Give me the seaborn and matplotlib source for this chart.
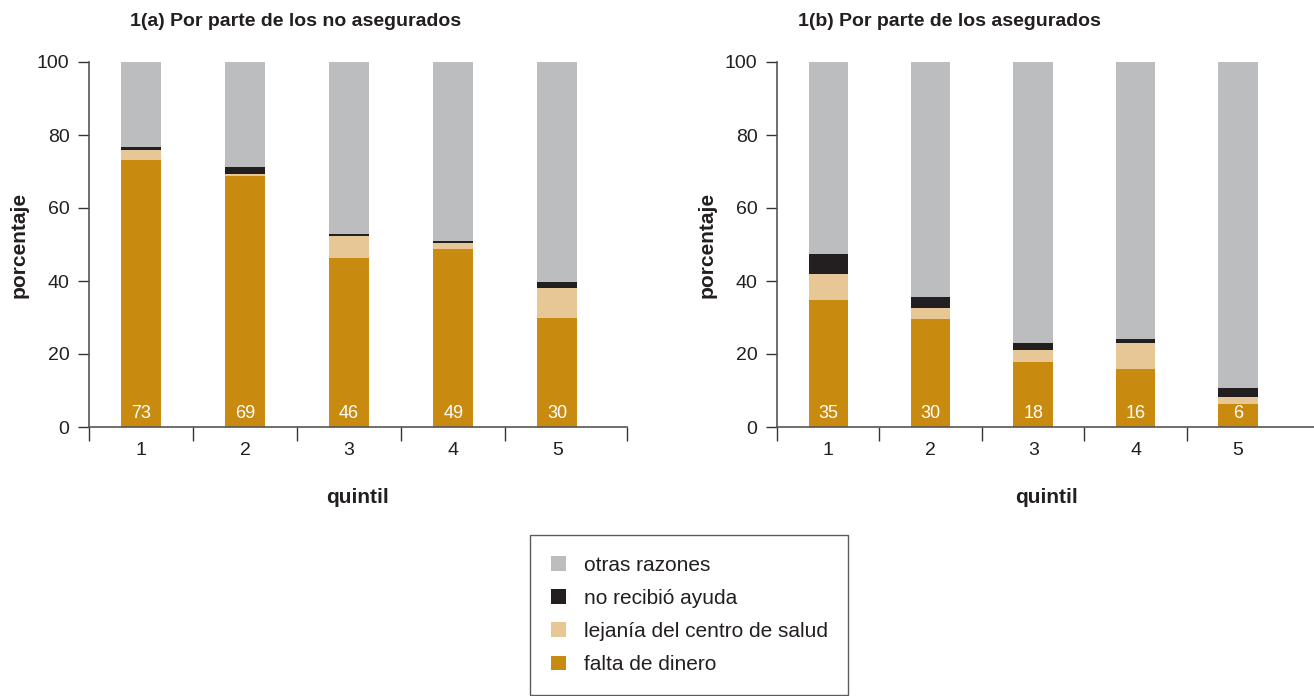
import matplotlib
matplotlib.use("Agg")
import matplotlib.pyplot as plt
import numpy as np
import pandas as pd
import seaborn as sns
from matplotlib.patches import Patch

QUINTILES = ["1", "2", "3", "4", "5"]
SERIES = ["falta de dinero", "lejanía del centro de salud", "no recibió ayuda", "otras razones"]
COLORS = {"falta de dinero": "#C98A10",
          "lejanía del centro de salud": "#E8C796",
          "no recibió ayuda": "#231F20",
          "otras razones": "#BCBDBF"}

# 1(a) no asegurados
a_dinero = [73.1, 68.7, 46.2, 48.9, 29.9]
a_lejania = [2.7, 0.5, 6.0, 1.6, 8.3]
a_ayuda = [0.8, 2.1, 0.8, 0.4, 1.6]
a_otras = [23.4, 28.7, 47.0, 49.1, 60.2]
a_labels = [73, 69, 46, 49, 30]

# 1(b) asegurados
b_dinero = [34.9, 29.7, 17.9, 15.9, 6.3]
b_lejania = [7.1, 3.0, 3.3, 7.2, 1.9]
b_ayuda = [5.3, 3.0, 1.9, 1.1, 2.5]
b_otras = [52.7, 64.3, 76.9, 75.8, 89.3]
b_labels = [35, 30, 18, 16, 6]

TITLES = ["1(a) Por parte de los no asegurados", "1(b) Por parte de los asegurados"]

sns.set_style("ticks")
plt.rcParams['font.family'] = ['Liberation Sans', 'DejaVu Sans']
TXT = "#231F20"


def stacked(ax, layers, labels, xmax, end_tick):
    df = pd.DataFrame(layers, index=QUINTILES)
    cum = df.cumsum(axis=1)
    # draw from the top layer down so lower layers cover the upper ones
    for name in SERIES[::-1]:
        sns.barplot(x=QUINTILES, y=cum[name].values, order=QUINTILES, color=COLORS[name],
                    width=0.385, saturation=1, linewidth=0, ax=ax)
    for i, v in enumerate(labels):
        ax.text(i, 1.3, str(v), ha="center", va="bottom", color="white", fontsize=13)
    ax.set_ylim(0, 100)
    ax.set_xlim(-0.5, xmax)
    ax.set_yticks(np.arange(0, 101, 20))
    bounds = list(np.arange(-0.5, 4, 1.0))
    if end_tick:
        bounds.append(xmax)
    ax.set_xticks(bounds, minor=True)
    ax.tick_params(axis="x", which="major", length=0, pad=11, labelsize=14, labelcolor=TXT)
    ax.tick_params(axis="x", which="minor", length=10, width=1, color="#333333", direction="out")
    ax.tick_params(axis="y", length=8, width=1, color="#333333", labelsize=14, labelcolor=TXT, pad=6)
    sns.despine(ax=ax)
    for s in ["left", "bottom"]:
        ax.spines[s].set_color("#555555")
        ax.spines[s].set_linewidth(1.2)
    ax.set_xlabel("quintil", fontsize=15, fontweight="bold", color=TXT, labelpad=21)
    ax.set_ylabel("porcentaje", fontsize=15, fontweight="bold", color=TXT, labelpad=6)


fig = plt.figure(figsize=(13.14, 6.96), dpi=100)
ax1 = fig.add_axes([89 / 1314, 1 - 427 / 696, 538 / 1314, 365 / 696])
ax2 = fig.add_axes([777 / 1314, 1 - 427 / 696, 538 / 1314, 365 / 696])

stacked(ax1, {"falta de dinero": a_dinero, "lejanía del centro de salud": a_lejania,
              "no recibió ayuda": a_ayuda, "otras razones": a_otras}, a_labels, 4.67, True)
stacked(ax2, {"falta de dinero": b_dinero, "lejanía del centro de salud": b_lejania,
              "no recibió ayuda": b_ayuda, "otras razones": b_otras}, b_labels, 4.75, False)

fig.text(296 / 1314, 1 - 21 / 696, TITLES[0], ha="center", va="center",
         fontsize=14, fontweight="bold", color=TXT)
fig.text(949 / 1314, 1 - 21 / 696, TITLES[1], ha="center", va="center",
         fontsize=14, fontweight="bold", color=TXT)

handles = [Patch(facecolor=COLORS[n], edgecolor="none", label=n) for n in SERIES[::-1]]
leg = fig.legend(handles=handles, loc="upper left", bbox_to_anchor=(530 / 1314, 1 - 535 / 696),
                 frameon=True, fancybox=False, fontsize=15, handlelength=0.72, handleheight=0.72,
                 labelspacing=0.68, borderpad=1.0, handletextpad=0.85, borderaxespad=0)
leg.get_frame().set_edgecolor("#333333")
leg.get_frame().set_linewidth(1.0)
for t in leg.get_texts():
    t.set_color(TXT)

fig.savefig("out.png", dpi=100)
